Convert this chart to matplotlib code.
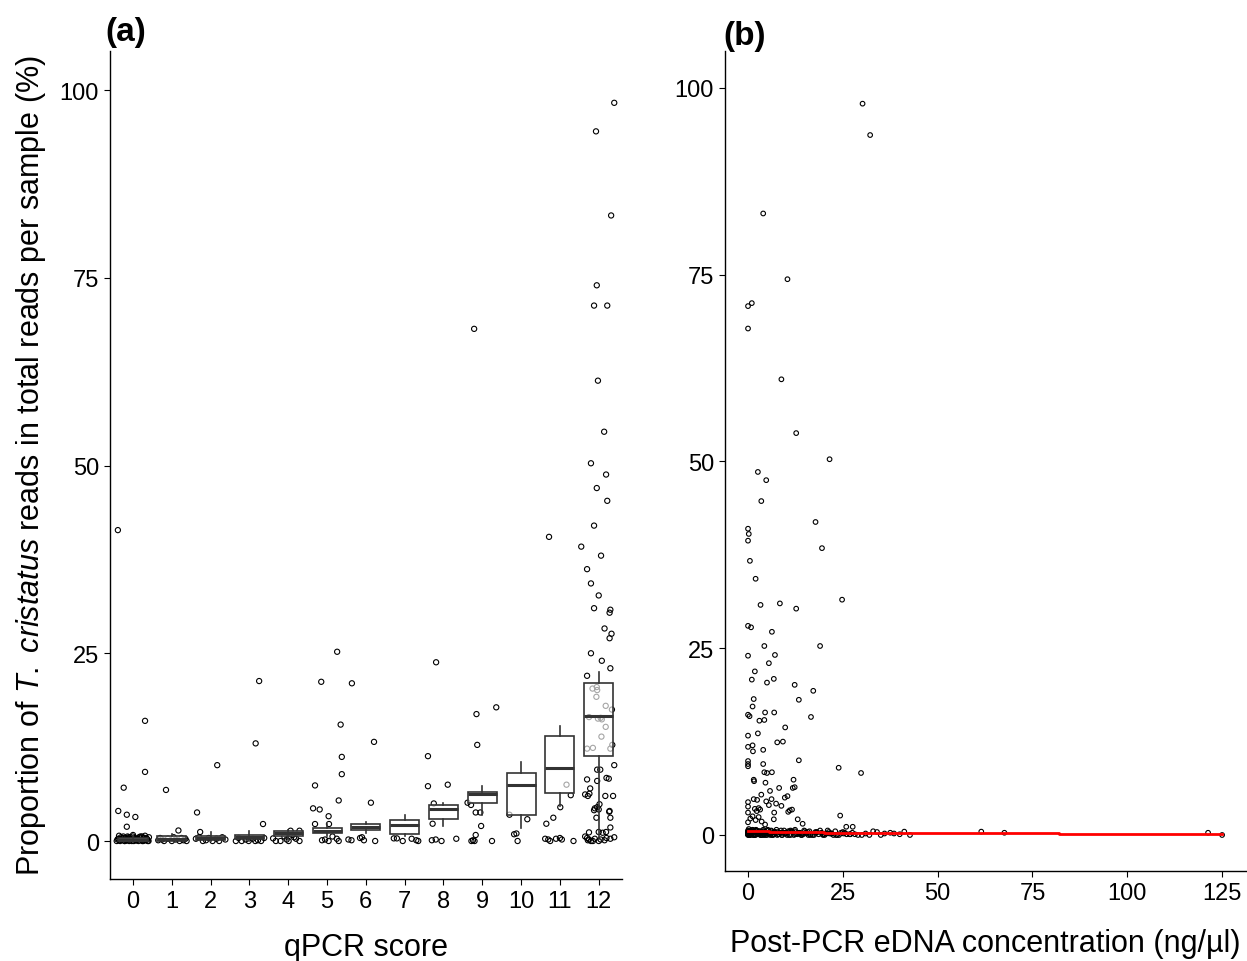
import numpy as np
import matplotlib.pyplot as plt

plt.rcParams['font.family'] = ['Liberation Sans', 'DejaVu Sans']
plt.rcParams['mathtext.fontset'] = 'custom'
plt.rcParams['mathtext.rm'] = 'Liberation Sans'
plt.rcParams['mathtext.it'] = 'Liberation Sans:italic'

# ---- panel (a): qPCR score vs proportion of reads ----
scores = list(range(13))
# box stats: lower whisker, q1, median, q3, upper whisker
box_lo = [0.0, 0.0, 0.0, 0.0, 0.1, 0.6, 1.1, 0.7, 2.0, 3.4, 1.7, 4.7, 0.3]
box_q1 = [0.0, 0.0, 0.15, 0.27, 0.7, 1.0, 1.5, 0.93, 2.9, 5.0, 3.4, 6.35, 11.3]
box_med = [0.1, 0.3, 0.44, 0.53, 1.07, 1.37, 1.9, 2.17, 4.25, 6.25, 7.4, 9.7, 16.6]
box_q3 = [0.4, 0.6, 0.7, 0.84, 1.3, 1.7, 2.26, 2.75, 4.8, 6.5, 9.0, 14.0, 21.1]
box_hi = [0.7, 0.9, 1.2, 1.3, 1.5, 2.3, 2.5, 3.46, 5.06, 7.3, 10.5, 15.35, 22.5]

# jittered points (score + offset, proportion)
qpcr_x = [
    # 0
    -0.39, 0.31, 0.31, -0.24, -0.38, -0.16, 0.06, -0.16,
    -0.42, -0.38, -0.35, -0.31, -0.28, -0.25, -0.22, -0.19, -0.16, -0.13, -0.10, -0.07, -0.04, -0.01,
    0.02, 0.05, 0.08, 0.11, 0.14, 0.17, 0.20, 0.23, 0.26, 0.29, 0.32, 0.35, 0.38, 0.41,
    -0.40, -0.33, -0.26, -0.18, -0.11, -0.03, 0.04, 0.12, 0.19, 0.27, 0.34, 0.40,
    -0.36, -0.29, -0.21, -0.14, -0.06, 0.00, 0.09, 0.16, 0.24, 0.31, 0.37,
    # 1
    0.85, 1.17, 0.65, 0.70, 0.80, 0.90, 1.00, 1.10, 1.20, 1.30, 1.38, 0.75, 1.05, 1.25, 1.35,
    # 2
    2.17, 1.65, 1.73, 1.62, 1.70, 1.80, 1.88, 1.95, 2.05, 2.15, 2.22, 2.30, 2.38,
    # 3
    3.25, 3.16, 3.35, 2.65, 2.72, 2.80, 2.90, 2.98, 3.08, 3.15, 3.22, 3.30, 3.38,
    # 4
    4.06, 4.29, 3.61, 3.68, 3.80, 3.96, 4.01, 4.15, 4.20, 4.29, 4.10, 3.90,
    # 5
    5.26, 4.85, 5.35, 5.38, 5.38, 5.30, 4.69, 4.64, 4.81, 5.04, 4.69, 5.05, 4.87, 5.04, 5.14, 5.25,
    5.30, 4.95,
    # 6
    5.64, 6.21, 6.13, 5.55, 5.63, 5.85, 5.90, 5.95, 6.24,
    # 7
    6.72, 6.80, 6.95, 7.18, 7.30, 7.35,
    # 8
    7.81, 7.60, 7.60, 8.11, 7.75, 7.72, 7.70, 7.80, 7.95, 8.33,
    # 9
    8.79, 8.85, 9.36, 8.87, 8.62, 8.71, 8.83, 8.95, 8.97, 8.83, 8.72, 8.76, 8.80, 9.25,
    # 10
    9.70, 10.16, 9.82, 9.88, 9.91,
    # 11
    10.72, 11.17, 11.28, 11.01, 10.83, 10.65, 10.62, 10.70, 10.75, 10.90, 11.00, 11.05, 11.35,
    # 12
    12.40, 11.93, 12.32, 11.95, 11.88, 12.22, 11.98, 12.14, 11.80, 12.19, 11.95, 12.22, 11.88,
    11.55, 12.06, 11.70, 11.80, 12.00, 11.88, 12.30, 12.28, 12.15, 12.33, 12.28, 11.80, 12.08,
    12.30, 11.70, 11.95,
    11.84, 11.96, 11.94, 12.18, 12.08, 11.98, 12.05, 12.18, 12.07, 11.70, 11.85, 12.30, 12.35,
    11.75, 12.34,
    11.96, 12.04, 12.40, 11.70, 11.96, 12.20, 12.26, 11.78, 11.65, 11.72, 11.76, 12.17, 12.37,
    12.02, 11.90, 11.96, 12.00, 11.88, 12.27, 12.28, 11.94, 12.30, 12.30, 12.19, 12.10, 12.00,
    11.75, 11.65, 11.70, 11.75, 11.80, 11.90, 12.00, 12.05, 12.15, 12.20, 12.30, 12.40, 11.72,
    11.85,
]
qpcr_y = [
    # 0
    41.4, 16.0, 9.2, 7.1, 4.0, 3.5, 3.2, 1.9,
    0.0, 0.3, 0.1, 0.5, 0.2, 0.6, 0.0, 0.4, 0.1, 0.3, 0.0, 0.5, 0.2, 0.6,
    0.0, 0.4, 0.1, 0.3, 0.0, 0.5, 0.2, 0.6, 0.0, 0.4, 0.1, 0.3, 0.0, 0.5,
    0.2, 0.0, 0.4, 0.1, 0.5, 0.0, 0.3, 0.2, 0.6, 0.1, 0.4, 0.0,
    0.7, 0.2, 0.0, 0.6, 0.3, 0.8, 0.1, 0.5, 0.0, 0.7, 0.2,
    # 1
    6.8, 1.4, 0.1, 0.4, 0.0, 0.3, 0.0, 0.2, 0.0, 0.1, 0.0, 0.2, 0.5, 0.4, 0.3,
    # 2
    10.1, 3.8, 1.2, 0.3, 0.5, 0.0, 0.1, 0.4, 0.0, 0.3, 0.0, 0.5, 0.2,
    # 3
    21.3, 13.0, 2.26, 0.0, 0.4, 0.0, 0.2, 0.0, 0.3, 0.0, 0.1, 0.0, 0.4,
    # 4
    1.37, 1.37, 0.35, 0.0, 0.0, 0.2, 0.0, 0.5, 0.3, 0.0, 0.8, 0.6,
    # 5
    25.2, 21.2, 15.5, 11.2, 8.9, 5.4, 7.4, 4.35, 4.2, 3.3, 2.26, 2.26, 0.1, 0.0, 0.6, 0.3,
    0.0, 0.2,
    # 6
    21.0, 13.2, 5.1, 0.2, 0.1, 0.4, 0.5, 0.1, 0.0,
    # 7
    0.35, 0.35, 0.0, 0.3, 0.1, 0.0,
    # 8
    23.8, 11.3, 7.3, 7.5, 5.0, 2.3, 0.1, 0.2, 0.0, 0.3,
    # 9
    68.2, 16.9, 17.8, 12.8, 5.1, 4.8, 3.8, 3.8, 2.0, 0.8, 0.0, 0.1, 0.0, 0.0,
    # 10
    3.5, 2.9, 0.9, 1.0, 0.0,
    # 11
    40.5, 7.5, 6.1, 4.5, 3.1, 2.3, 0.3, 0.2, 0.0, 0.3, 0.4, 0.2, 0.0,
    # 12
    98.3, 94.5, 83.3, 74.0, 71.3, 71.3, 61.3, 54.5, 50.3, 48.8, 47.0, 45.3, 42.0,
    39.2, 38.0, 36.2, 34.3, 32.7, 31.0, 30.8, 30.4, 28.3, 27.6, 27.0, 25.0, 24.0,
    23.0, 22.0, 20.5,
    20.3, 20.1, 19.2, 18.0, 16.2, 16.3, 16.4, 15.2, 13.9, 12.3, 12.4, 12.3, 12.8,
    16.5, 17.5,
    9.5, 9.5, 10.1, 8.2, 8.0, 8.4, 8.3, 7.0, 6.2, 6.0, 6.3, 6.0, 6.0,
    4.9, 4.35, 4.5, 4.2, 4.1, 3.9, 4.0, 3.1, 3.1, 1.8, 1.2, 1.1, 1.2,
    1.15, 0.6, 0.4, 0.2, 0.0, 0.3, 0.0, 0.2, 0.1, 0.4, 0.3, 0.5, 0.1,
    0.0,
]

# ---- panel (b): post-PCR eDNA concentration vs proportion ----
conc = [
    30.2, 32.2, 4.0, 10.4, 0.0, 1.0, 0.0, 8.8, 12.7, 21.5, 2.6, 4.8, 3.5, 0.0, 0.2, 0.0,
    17.8, 19.5, 0.5, 2.0, 3.3, 8.4, 12.7, 24.8, 0.0, 0.8, 6.3, 4.3, 19.0, 0.0, 7.1, 5.5,
    1.8, 1.0, 6.8, 5.0, 12.3, 17.2, 13.4, 1.5, 1.2, 0.0, 0.4, 4.5, 6.9, 3.0, 4.3, 16.6,
    9.8, 2.6, 0.0, 0.0, 1.2, 1.3, 4.0, 7.7, 9.2, 13.4, 0.0, 0.0, 0.0, 4.0, 4.3, 5.0,
    6.3, 23.9, 29.8, 1.5, 1.6, 4.6, 12.0, 11.8, 5.8, 8.2, 9.7, 10.4, 12.3, 3.5, 1.5, 2.4,
    0.0, 0.0, 0.0, 1.8, 2.3, 2.8, 3.2, 4.8, 5.5, 6.2, 7.4, 8.8, 6.9, 6.8, 11.0, 10.6,
    11.6, 13.1, 14.4, 24.3, 25.9, 27.6, 0.0, 0.6, 1.2, 2.0, 2.8, 3.6, 4.5,
    # near zero
    0.0, 0.0, 0.0, 0.0, 0.2, 0.4, 0.6, 0.8, 1.0, 1.2, 1.5, 1.8, 2.0, 2.3, 2.6, 3.0,
    3.3, 3.6, 4.0, 4.3, 4.7, 5.0, 5.4, 5.8, 6.2, 6.6, 7.0, 7.5, 8.0, 8.5, 9.0, 9.5,
    10.0, 10.6, 11.2, 11.8, 12.4, 13.0, 13.6, 14.2, 14.8, 15.5, 16.2, 17.0, 17.8, 18.6,
    19.4, 20.2, 21.0, 22.0, 23.0, 24.0, 25.0, 26.0, 27.5, 29.0, 31.0, 33.0, 35.0, 37.5,
    40.0, 0.1, 0.5, 0.9, 1.4, 1.9, 2.5, 3.1, 3.8, 4.5, 5.2, 6.0, 6.8, 7.7, 8.7, 9.8,
    11.0, 12.1, 13.3, 14.5, 15.8, 17.4, 19.0, 20.6, 22.5, 24.5, 26.8, 30.0, 34.0, 38.5,
    0.0, 0.3, 0.7, 1.1, 1.6, 2.2, 2.9, 3.5, 4.2, 4.9, 5.6, 6.4, 7.2, 8.2, 9.2, 10.3,
    11.5, 12.7, 14.0, 15.2, 16.6, 18.2, 19.8, 21.5, 23.5, 25.5, 28.2, 32.0, 36.0,
    0.0, 0.1, 0.2, 0.4, 0.7, 1.0, 1.3, 1.7, 2.1, 2.7, 3.2, 3.9, 4.6, 5.3, 6.1, 6.9,
    7.9, 8.9, 9.9, 11.2, 12.4, 13.7, 15.0, 16.4, 18.0, 19.6, 21.3, 23.2, 25.2, 27.0,
    0.0, 0.3, 0.8, 1.3, 2.0, 2.7, 3.4, 4.1, 5.0, 5.9, 6.9, 8.0, 9.3, 10.8, 12.3, 14.0,
    15.9, 17.9, 20.0, 22.0,
    41.2, 42.7, 61.5, 67.6, 121.3, 125.0,
]
prop = [
    97.9, 93.7, 83.2, 74.4, 70.8, 71.2, 67.8, 61.0, 53.8, 50.3, 48.6, 47.5, 44.7, 41.0, 40.3, 39.4,
    41.9, 38.4, 36.7, 34.3, 30.8, 31.0, 30.3, 31.5, 28.0, 27.8, 27.2, 25.3, 25.3, 24.0, 24.1, 23.0,
    21.9, 20.8, 20.9, 20.4, 20.1, 19.3, 18.1, 18.2, 17.2, 16.1, 15.9, 16.4, 16.4, 15.3, 15.4, 15.8,
    14.4, 13.6, 13.3, 11.8, 12.0, 11.2, 11.4, 12.4, 12.5, 10.0, 9.9, 9.5, 9.2, 9.5, 8.4, 8.3,
    8.4, 9.0, 8.3, 7.4, 7.2, 7.0, 7.4, 6.3, 5.9, 6.3, 5.0, 5.2, 6.4, 5.4, 4.8, 4.7,
    4.4, 3.8, 3.0, 3.5, 3.2, 3.6, 3.4, 4.5, 4.0, 4.8, 4.2, 3.9, 3.0, 2.1, 3.3, 3.1,
    3.4, 2.1, 1.5, 2.6, 1.1, 1.1, 1.7, 2.2, 2.5, 2.0, 2.4, 1.8, 1.4,
    # near zero
    0.0, 0.3, 0.6, 0.1, 0.8, 0.2, 0.5, 0.0, 0.4, 0.7, 0.1, 0.3, 0.0, 0.6, 0.2, 0.5,
    0.0, 0.4, 0.7, 0.1, 0.3, 0.0, 0.6, 0.2, 0.5, 0.0, 0.4, 0.7, 0.1, 0.3, 0.0, 0.6,
    0.2, 0.5, 0.0, 0.4, 0.7, 0.1, 0.3, 0.0, 0.6, 0.2, 0.5, 0.0, 0.4, 0.1,
    0.3, 0.0, 0.6, 0.2, 0.5, 0.0, 0.4, 0.1, 0.3, 0.0, 0.2, 0.5, 0.0, 0.3,
    0.1, 0.5, 0.1, 0.4, 0.0, 0.6, 0.2, 0.5, 0.0, 0.3, 0.7, 0.1, 0.4, 0.0, 0.6, 0.2,
    0.5, 0.0, 0.3, 0.1, 0.4, 0.0, 0.6, 0.2, 0.0, 0.3, 0.1, 0.0, 0.4, 0.2,
    0.2, 0.0, 0.4, 0.2, 0.0, 0.5, 0.1, 0.3, 0.0, 0.6, 0.2, 0.0, 0.4, 0.1, 0.3, 0.0,
    0.5, 0.2, 0.0, 0.3, 0.1, 0.4, 0.0, 0.2, 0.0, 0.3, 0.1, 0.0, 0.2,
    0.1, 0.5, 0.3, 0.0, 0.6, 0.2, 0.4, 0.0, 0.7, 0.1, 0.3, 0.5, 0.0, 0.2, 0.6, 0.1,
    0.4, 0.0, 0.3, 0.6, 0.1, 0.2, 0.5, 0.0, 0.3, 0.1, 0.4, 0.0, 0.2, 0.1,
    0.4, 0.0, 0.2, 0.6, 0.1, 0.4, 0.0, 0.5, 0.2, 0.0, 0.4, 0.1, 0.3, 0.0, 0.5, 0.2,
    0.0, 0.3, 0.1, 0.2,
    0.45, 0.0, 0.45, 0.3, 0.3, 0.0,
]

# fitted step line
fit_x = [0.0, 5.5, 20.0, 82.0, 125.0]
fit_y = [0.5, 0.4, 0.3, 0.1, 0.1]

fig = plt.figure(figsize=(12.47, 9.62), dpi=100)
ax1 = fig.add_axes([110 / 1247, 82 / 962, 512 / 1247, 828 / 962])
ax2 = fig.add_axes([725 / 1247, 90 / 962, 521 / 1247, 820 / 962])

ax1.scatter(qpcr_x, qpcr_y, s=14, facecolors='none', edgecolors='black', linewidths=0.8, zorder=1)
stats = []
for i in range(len(scores)):
    stats.append({'whislo': box_lo[i], 'q1': box_q1[i], 'med': box_med[i],
                  'q3': box_q3[i], 'whishi': box_hi[i], 'fliers': []})
ax1.bxp(stats, positions=scores, widths=0.75, patch_artist=True, showfliers=False,
        boxprops=dict(facecolor=(1, 1, 1, 0.65), edgecolor='#333333', linewidth=1.2),
        medianprops=dict(color='#333333', linewidth=2.2),
        whiskerprops=dict(color='#333333', linewidth=1.2),
        capprops=dict(linewidth=0), manage_ticks=False, zorder=2)
ax1.set_xlim(-0.593, 12.6)
ax1.set_ylim(-5.06, 105.2)
ax1.set_xticks(scores)
ax1.set_yticks([0, 25, 50, 75, 100])
ax1.set_xlabel('qPCR score', fontsize=22, labelpad=14)
ax1.set_ylabel(r'Proportion of $\mathit{T.}$ $\mathit{cristatus}$ reads in total reads per sample (%)',
               fontsize=22, labelpad=8)
ax1.text(-0.01, 1.005, '(a)', transform=ax1.transAxes, fontsize=24, fontweight='bold',
         ha='left', va='bottom')

ax2.scatter(conc, prop, s=11, facecolors='none', edgecolors='black', linewidths=0.8, zorder=1)
ax2.plot(fit_x, fit_y, drawstyle='steps-post', color='red', linewidth=2.0, zorder=3)
ax2.set_xlim(-6.07, 131.3)
ax2.set_ylim(-4.82, 104.95)
ax2.set_xticks([0, 25, 50, 75, 100, 125])
ax2.set_yticks([0, 25, 50, 75, 100])
ax2.set_xlabel('Post-PCR eDNA concentration (ng/\u00b5l)', fontsize=22, labelpad=17)
ax2.text(-0.003, 1.0, '(b)', transform=ax2.transAxes, fontsize=24, fontweight='bold',
         ha='left', va='bottom')

for ax in (ax1, ax2):
    ax.spines['top'].set_visible(False)
    ax.spines['right'].set_visible(False)
    ax.spines['left'].set_linewidth(1.0)
    ax.spines['bottom'].set_linewidth(1.0)
    ax.tick_params(labelsize=17, length=4, width=0.8, pad=4)

fig.savefig('out.png', dpi=100)
